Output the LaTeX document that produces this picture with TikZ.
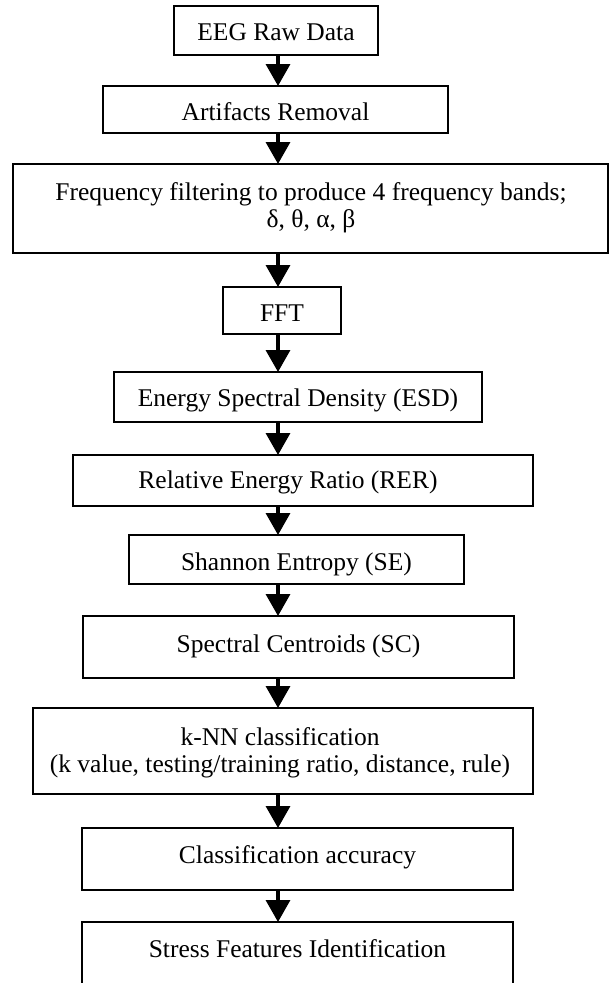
\documentclass[tikz,border=0pt]{standalone}
\usepackage{fontspec}
\setmainfont{Liberation Serif}
\usetikzlibrary{arrows.meta}
\begin{document}
\begin{tikzpicture}[x=1pt,y=-1pt,
  box/.style={draw, line width=1.6pt, inner sep=0pt, outer sep=0pt},
  lbl/.style={anchor=base, inner sep=0pt, font=\fontsize{25.5}{27}\selectfont},
  arr/.style={line width=3.5pt, -{Triangle[width=24pt,length=22pt]}}]
\clip (0,0) rectangle (614,983);
\coordinate (ax) at (278,0);
% boxes
\node[box, minimum width=204pt, minimum height=49pt] (b1) at (276,30.5) {};
\node[box, minimum width=345pt, minimum height=47pt] (b2) at (275.5,109.5) {};
\node[box, minimum width=595pt, minimum height=89pt] (b3) at (310.5,208.5) {};
\node[box, minimum width=118pt, minimum height=47pt] (b4) at (282,310.5) {};
\node[box, minimum width=368pt, minimum height=50pt] (b5) at (298,397) {};
\node[box, minimum width=460pt, minimum height=51pt] (b6) at (303,480.5) {};
\node[box, minimum width=335pt, minimum height=49pt] (b7) at (296.5,559.5) {};
\node[box, minimum width=431pt, minimum height=62pt] (b8) at (298.5,647) {};
\node[box, minimum width=500pt, minimum height=86pt] (b9) at (283,751) {};
\node[box, minimum width=431pt, minimum height=62pt] (b10) at (297.5,859) {};
\node[box, minimum width=431pt, minimum height=78pt] (b11) at (297.5,961) {};
% texts
\node[lbl] (t1) at (276,40) {EEG Raw Data};
\node[lbl] (t2) at (275.5,120) {Artifacts Removal};
\node[lbl] (t3a) at (311,200) {Frequency filtering to produce 4 frequency bands;};
\node[lbl] (t3b) at (311,227) {δ, θ, α, β};
\node[lbl] (t4) at (282,321) {FFT};
\node[lbl] (t5) at (298,406) {Energy Spectral Density (ESD)};
\node[lbl] (t6) at (288,488) {Relative Energy Ratio (RER)};
\node[lbl] (t7) at (296.5,570) {Shannon Entropy (SE)};
\node[lbl] (t8) at (298.5,652) {Spectral Centroids (SC)};
\node[lbl] (t9a) at (280,745) {k-NN classification};
\node[lbl] (t9b) at (280,772) {(k value, testing/training ratio, distance, rule)};
\node[lbl] (t10) at (297.5,863) {Classification accuracy};
\node[lbl] (t11) at (297.5,957) {Stress Features Identification};
% arrows
\draw[arr] (b1.south -| ax) -- (b2.north -| ax);
\draw[arr] (b2.south -| ax) -- (b3.north -| ax);
\draw[arr] (b3.south -| ax) -- (b4.north -| ax);
\draw[arr] (b4.south -| ax) -- (b5.north -| ax);
\draw[arr] (b5.south -| ax) -- (b6.north -| ax);
\draw[arr] (b6.south -| ax) -- (b7.north -| ax);
\draw[arr] (b7.south -| ax) -- (b8.north -| ax);
\draw[arr] (b8.south -| ax) -- (b9.north -| ax);
\draw[arr] (b9.south -| ax) -- (b10.north -| ax);
\draw[arr] (b10.south -| ax) -- (b11.north -| ax);
\end{tikzpicture}
\end{document}
